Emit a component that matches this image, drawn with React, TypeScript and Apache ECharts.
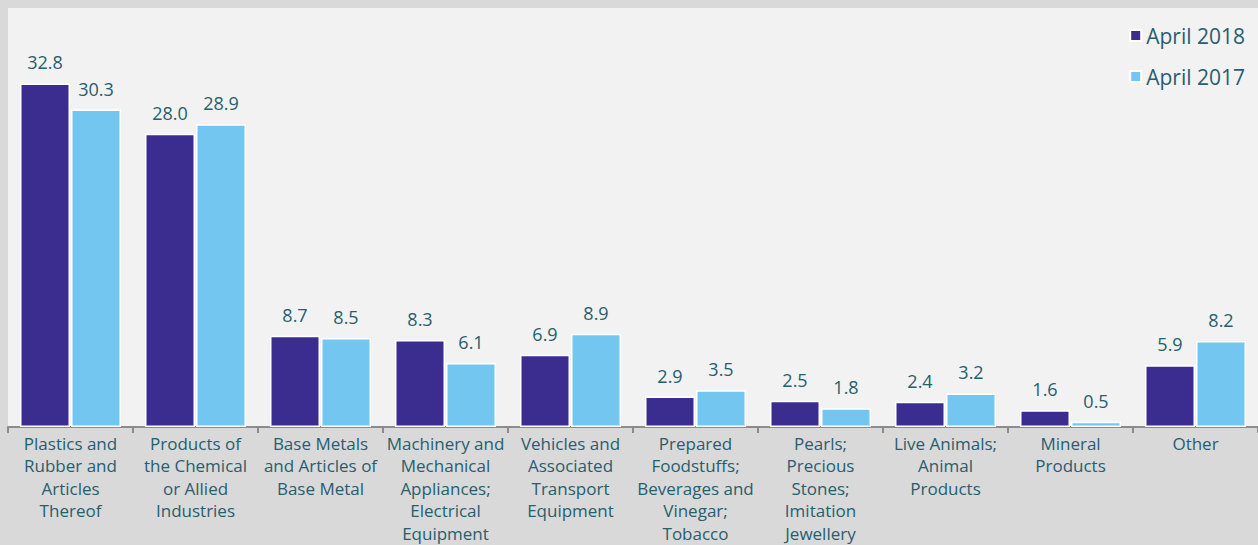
import React, { useEffect, useRef } from "react";
import * as echarts from "echarts";

const categories = [
  "Plastics and\nRubber and\nArticles\nThereof",
  "Products of\nthe Chemical\nor Allied\nIndustries",
  "Base Metals\nand Articles of\nBase Metal",
  "Machinery and\nMechanical\nAppliances;\nElectrical\nEquipment",
  "Vehicles and\nAssociated\nTransport\nEquipment",
  "Prepared\nFoodstuffs;\nBeverages and\nVinegar;\nTobacco",
  "Pearls;\nPrecious\nStones;\nImitation\nJewellery",
  "Live Animals;\nAnimal\nProducts",
  "Mineral\nProducts",
  "Other",
];
const april2018 = [32.8, 28.0, 8.7, 8.3, 6.9, 2.9, 2.5, 2.4, 1.6, 5.9];
const april2017 = [30.3, 28.9, 8.5, 6.1, 8.9, 3.5, 1.8, 3.2, 0.5, 8.2];

const TEXT = "#275e6e";
const FONT = "'Open Sans', sans-serif";

export default function App() {
  const ref = useRef<HTMLDivElement>(null);
  useEffect(() => {
    document.body.style.margin = "0";
    const chart = echarts.init(ref.current!, null, { renderer: "svg" });
    const label = {
      show: true,
      position: "top",
      distance: 12,
      color: TEXT,
      fontSize: 18,
      fontFamily: FONT,
      formatter: (p: any) => Number(p.value).toFixed(1),
    };
    chart.setOption({
      animation: false,
      backgroundColor: "#d9d9d9",
      textStyle: { fontFamily: FONT },
      grid: {
        left: 8,
        right: 0,
        top: 8,
        bottom: 118,
        show: true,
        backgroundColor: "#f2f2f2",
        borderWidth: 0,
      },
      legend: {
        orient: "vertical",
        right: 8,
        top: 20,
        itemWidth: 11,
        itemHeight: 11,
        itemGap: 20,
        icon: "rect",
        textStyle: { color: TEXT, fontSize: 21, fontFamily: FONT, lineHeight: 20 },
        data: ["April 2018", "April 2017"],
      },
      xAxis: {
        type: "category",
        data: categories,
        axisLine: { lineStyle: { color: "#8c8c8c", width: 2 } },
        axisTick: { show: true, length: 6, lineStyle: { color: "#8c8c8c", width: 2 } },
        axisLabel: {
          color: TEXT,
          fontSize: 17,
          lineHeight: 22.5,
          fontFamily: FONT,
          margin: 5,
          interval: 0,
        },
      },
      yAxis: {
        type: "value",
        min: 0,
        max: 40,
        show: false,
        splitLine: { show: false },
      },
      series: [
        {
          name: "April 2018",
          type: "bar",
          data: april2018,
          barWidth: 50,
          barGap: "2%",
          itemStyle: { color: "#3b2d8f", borderColor: "#ffffff", borderWidth: 1.5 },
          label,
        },
        {
          name: "April 2017",
          type: "bar",
          data: april2017,
          barWidth: 50,
          itemStyle: { color: "#72c6f0", borderColor: "#ffffff", borderWidth: 1.5 },
          label,
        },
      ],
    });
    return () => chart.dispose();
  }, []);
  return (
    <div
      ref={ref}
      style={{ position: "absolute", left: 0, top: 0, width: 1258, height: 545 }}
    />
  );
}
